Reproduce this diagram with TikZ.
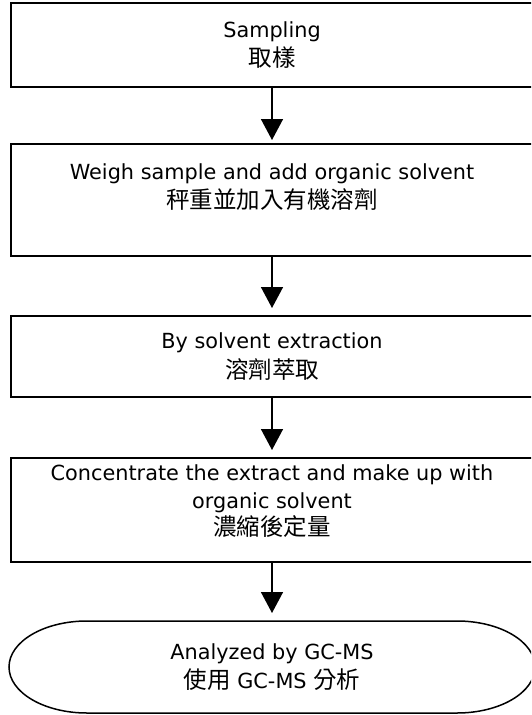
\documentclass[tikz,border=0pt]{standalone}
\usepackage{fontspec}
\setmainfont{DejaVu Sans}
\newfontfamily\cjk{Noto Sans CJK TC}
\usetikzlibrary{positioning, arrows.meta}

\newcommand{\zh}[1]{{\cjk\fontsize{23.5}{28}\selectfont #1}}

\begin{document}
\begin{tikzpicture}[x=1pt, y=1pt,
    font=\fontsize{20.8}{27.5}\selectfont,
    box/.style={draw, line width=1.5pt, minimum width=522pt, align=center, inner sep=0pt, outer sep=0pt},
    flow/.style={-{Triangle[length=21pt,width=22pt]}, line width=1.5pt, shorten >=8pt}]
  \useasboundingbox (0,0) rectangle (531,-715);
  \clip (0,0) rectangle (531,-715);
  \node[box, minimum height=84pt] (smp) at (272,-45) {Sampling\\[2pt]\zh{取樣}};
  \node[box, minimum height=112pt, below=57pt of smp] (wgh) {Weigh sample and add organic solvent\\[2pt]\zh{秤重並加入有機溶劑}\\ \mbox{}};
  \node[box, minimum height=81pt, below=60pt of wgh] (ext) {By solvent extraction\\[2pt]\zh{溶劑萃取}};
  \node[box, minimum height=104pt, below=61pt of ext] (con) {Concentrate the extract and make up with\\organic solvent\\\zh{濃縮後定量}\\[-8pt] \mbox{}};
  \node[minimum width=370pt, minimum height=92pt, inner sep=0pt, outer sep=0pt, align=center, below=59pt of con] (gcms) {Analyzed by GC-MS\\[2pt]\zh{使用} GC-MS \zh{分析}};
  % terminal with elliptic ends
  \draw[line width=1.5pt] (gcms.north west) -- (gcms.north east)
      arc[start angle=90, end angle=-90, x radius=78, y radius=46]
      -- (gcms.south west)
      arc[start angle=270, end angle=90, x radius=78, y radius=46] -- cycle;
  \draw[flow, shorten >=4pt] (smp) -- (wgh);
  \draw[flow] (wgh) -- (ext);
  \draw[flow] (ext) -- (con);
  \draw[flow] (con) -- (gcms);
\end{tikzpicture}
\end{document}
